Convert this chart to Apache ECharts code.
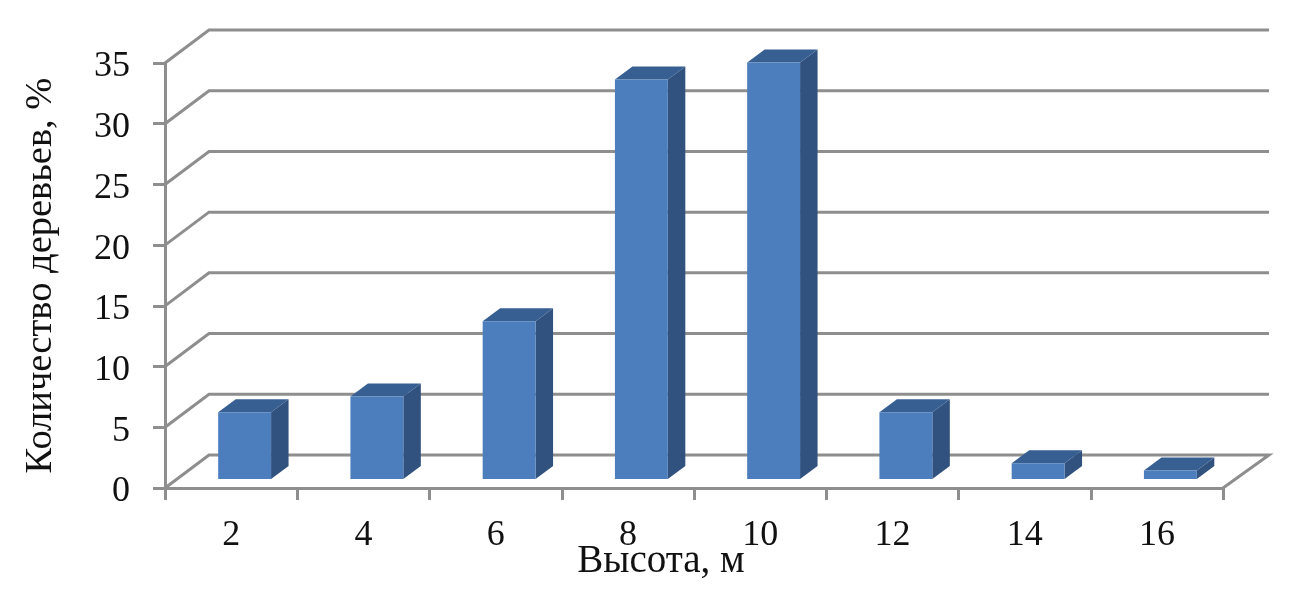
<!DOCTYPE html>
<html>
<head>
<meta charset="utf-8">
<style>html,body{margin:0;padding:0;background:#fff}#c{width:1299px;height:590px}</style>
<script src="https://cdn.jsdelivr.net/npm/echarts@6/dist/echarts.min.js"></script>
</head>
<body>
<div id="c"></div>
<script>
const categories = ['2', '4', '6', '8', '10', '12', '14', '16'];
const values = [5.5, 6.8, 13, 32.9, 34.3, 5.5, 1.3, 0.7];
const yTicks = [0, 5, 10, 15, 20, 25, 30, 35];
const xTitle = 'Высота, м';
const yTitle = 'Количество деревьев, %';

const FONT = '"Liberation Serif","Times New Roman",serif';
const GRAY = '#8e8e8e';
const WALL_DX = 44, WALL_DX_RIGHT = 46, WALL_DY = 33;
const BAR_DX = 17.5, BAR_DY = 13;
const BAR_SHIFT_X = 13.5, BAR_SHIFT_Y = 9;
const BAR_WIDTH_RATIO = 0.4;

function renderWall(params, api) {
  const cs = params.coordSys;
  const p = api.coord([0, api.value(1)]);
  const left = cs.x, right = cs.x + cs.width;
  const points = [[left, p[1]], [left + WALL_DX, p[1] - WALL_DY], [right + WALL_DX_RIGHT, p[1] - WALL_DY]];
  if (api.value(1) === 0) points.push([right, p[1]]);
  return {
    type: 'polyline',
    shape: { points },
    style: { fill: 'none', stroke: GRAY, lineWidth: 3 },
    silent: true
  };
}

function renderBar(params, api) {
  const p = api.coord([api.value(0), api.value(1)]);
  const base = api.coord([api.value(0), 0]);
  const w = api.size([1, 0])[0] * BAR_WIDTH_RATIO;
  const x0 = p[0] - w / 2 + BAR_SHIFT_X, x1 = x0 + w;
  const yT = p[1] - BAR_SHIFT_Y, yB = base[1] - BAR_SHIFT_Y;
  return {
    type: 'group',
    children: [
      { type: 'polygon', shape: { points: [[x1, yT], [x1 + BAR_DX, yT - BAR_DY], [x1 + BAR_DX, yB - BAR_DY], [x1, yB]] },
        style: { fill: '#31527f' } },
      { type: 'polygon', shape: { points: [[x0, yT], [x0 + BAR_DX, yT - BAR_DY], [x1 + BAR_DX, yT - BAR_DY], [x1, yT]] },
        style: { fill: '#375f92' } },
      { type: 'rect', shape: { x: x0, y: yT, width: w, height: yB - yT },
        style: { fill: '#4c7ebd' } }
    ]
  };
}

const chart = echarts.init(document.getElementById('c'), null, { renderer: 'canvas' });
chart.setOption({
  animation: false,
  backgroundColor: '#fff',
  grid: { left: 165, right: 76, top: 63, bottom: 102, outerBoundsMode: 'none' },
  xAxis: {
    type: 'category',
    data: categories,
    name: xTitle,
    nameLocation: 'middle',
    nameGap: 54,
    nameMoveOverlap: false,
    nameTextStyle: { fontFamily: FONT, fontSize: 39, color: '#111', padding: [0, 66, 0, 0] },
    axisLine: { show: true, lineStyle: { color: GRAY, width: 3 } },
    axisTick: { show: true, alignWithLabel: false, length: 12, lineStyle: { color: GRAY, width: 3 } },
    axisLabel: { fontFamily: FONT, fontSize: 36, color: '#111', margin: 30 },
    splitLine: { show: false }
  },
  yAxis: {
    type: 'value',
    min: 0,
    max: 35,
    interval: 5,
    name: yTitle,
    nameLocation: 'middle',
    nameGap: 105,
    nameRotate: 90,
    nameTextStyle: { fontFamily: FONT, fontSize: 38.5, color: '#111' },
    axisLine: { show: true, lineStyle: { color: GRAY, width: 3 } },
    axisTick: { show: true, length: 12, lineStyle: { color: GRAY, width: 3 } },
    axisLabel: { fontFamily: FONT, fontSize: 36, color: '#111', margin: 35, verticalAlign: 'top', lineHeight: 8 },
    splitLine: { show: false }
  },
  series: [
    {
      type: 'custom',
      silent: true,
      clip: false,
      z: 1,
      renderItem: renderWall,
      encode: { x: 0, y: 1 },
      data: yTicks.map(v => [0, v])
    },
    {
      type: 'custom',
      silent: true,
      clip: false,
      z: 3,
      renderItem: renderBar,
      encode: { x: 0, y: 1 },
      data: values.map((v, i) => [i, v])
    }
  ]
});
</script>
</body>
</html>
